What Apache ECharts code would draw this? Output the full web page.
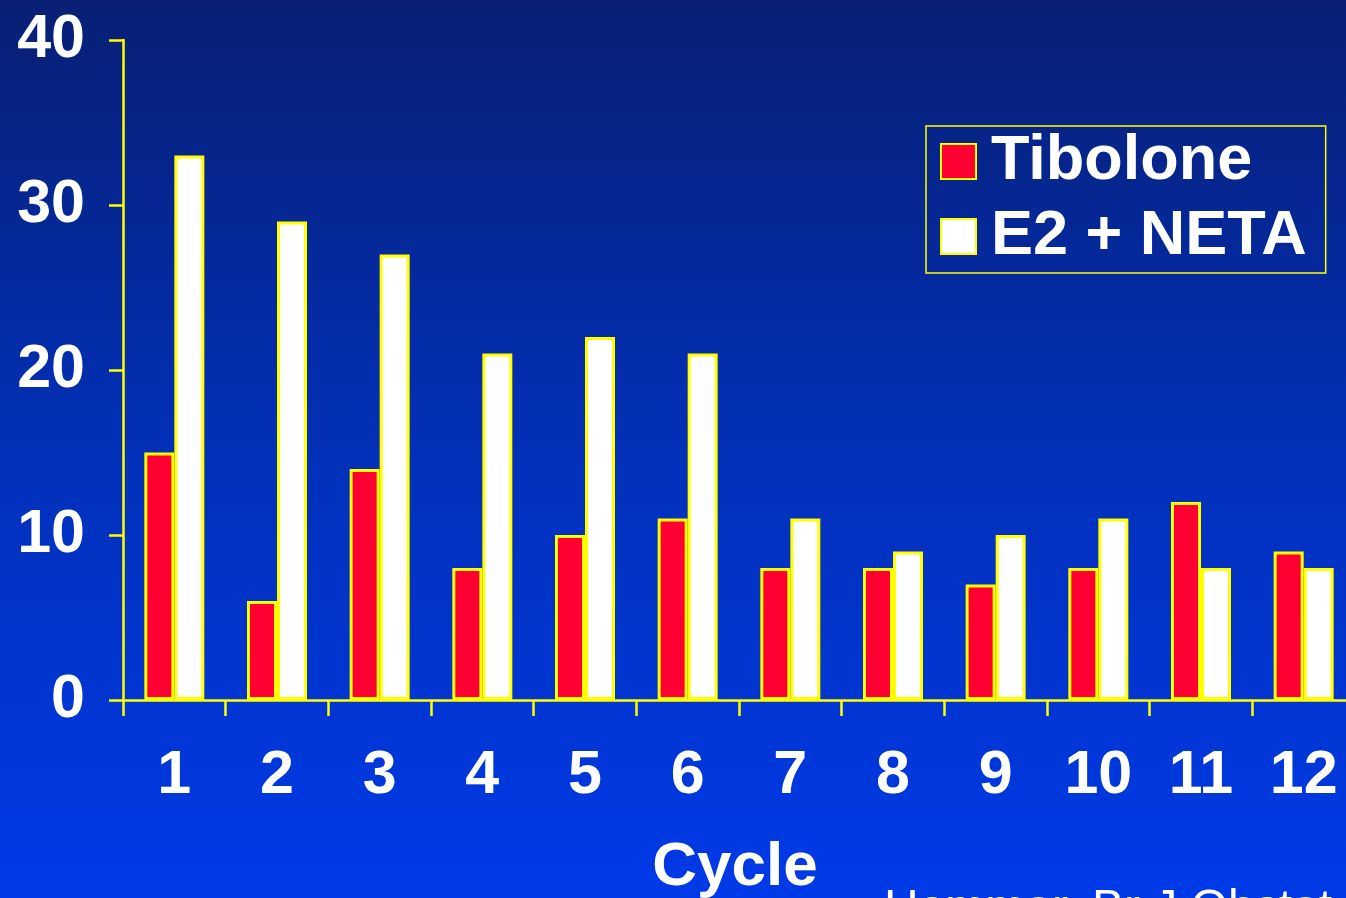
<!DOCTYPE html>
<html>
<head>
<meta charset="utf-8">
<title>Cycle bar chart</title>
<script src="https://cdn.jsdelivr.net/npm/echarts@6/dist/echarts.min.js"></script>
<style>
  html, body { margin: 0; padding: 0; overflow: hidden; width: 1346px; height: 898px; }
  /* the plot runs a few pixels past the right edge of the page */
  #chart { width: 1355px; height: 898px; }
</style>
</head>
<body>
<div id="chart"></div>
<script>
// Cycle numbers along the x axis
const cycles = ['1', '2', '3', '4', '5', '6', '7', '8', '9', '10', '11', '12'];
// Values per cycle for each treatment group
const tibolone = [15, 6, 14, 8, 10, 11, 8, 8, 7, 8, 12, 9];
const e2Neta = [33, 29, 27, 21, 22, 21, 11, 9, 10, 11, 8, 8];
const seriesNames = ['Tibolone', 'E2 + NETA'];
const sourceNote = 'Hammar, Br J Obstet Gynaecol';

const YELLOW = '#ffff00';
const FONT = '"Liberation Sans", Arial, sans-serif';

const chart = echarts.init(document.getElementById('chart'));

chart.setOption({
  backgroundColor: {
    type: 'linear', x: 0, y: 0, x2: 0, y2: 1,
    colorStops: [
      { offset: 0, color: '#081f74' },
      { offset: 0.5, color: '#0230b8' },
      { offset: 1, color: '#003ae8' }
    ]
  },
  animation: false,
  textStyle: { fontFamily: FONT },
  grid: { left: 123, top: 40, bottom: 198, right: 0, outerBoundsMode: 'none', containLabel: false },
  legend: {
    orient: 'vertical',
    left: 926,
    top: 126,
    padding: [4, 19, 5, 14],
    itemGap: 12,
    itemWidth: 35,
    itemHeight: 35,
    borderColor: YELLOW,
    borderWidth: 1.5,
    icon: 'rect',
    data: seriesNames,
    textStyle: {
      color: '#ffffff',
      fontSize: 63,
      fontWeight: 'bold',
      fontFamily: FONT,
      lineHeight: 60,
      padding: [0, 0, 0, 10]
    }
  },
  xAxis: {
    type: 'category',
    data: cycles,
    name: 'Cycle',
    nameLocation: 'middle',
    nameGap: 137,
    nameTextStyle: {
      color: '#ffffff', fontSize: 62, fontWeight: 'bold', fontFamily: FONT,
      verticalAlign: 'top',
      padding: [0, 8, 0, 0]
    },
    axisLine: { lineStyle: { color: YELLOW, width: 2.5 } },
    axisTick: { show: true, length: 16, lineStyle: { color: YELLOW, width: 2.5 } },
    axisLabel: {
      color: '#ffffff', fontSize: 61, fontWeight: 'bold', fontFamily: FONT, margin: 46
    }
  },
  yAxis: {
    type: 'value',
    min: 0,
    max: 40,
    interval: 10,
    splitLine: { show: false },
    axisLine: { show: true, lineStyle: { color: YELLOW, width: 2.5 } },
    axisTick: { show: true, length: 14, lineStyle: { color: YELLOW, width: 2.5 } },
    axisLabel: {
      color: '#ffffff', fontSize: 61, fontWeight: 'bold', fontFamily: FONT, margin: 38
    }
  },
  series: [
    {
      name: seriesNames[0],
      type: 'bar',
      data: tibolone,
      barWidth: 30,
      barGap: 0,
      itemStyle: { color: '#ff0033', borderColor: YELLOW, borderWidth: 3 }
    },
    {
      name: seriesNames[1],
      type: 'bar',
      data: e2Neta,
      barWidth: 30,
      barGap: 0,
      itemStyle: { color: '#ffffff', borderColor: YELLOW, borderWidth: 3 }
    }
  ],
  graphic: [
    {
      type: 'text',
      left: 884,
      top: 886,
      style: {
        text: sourceNote,
        fill: '#ffffff',
        font: '48px ' + FONT,
        textShadowColor: '#000000',
        textShadowOffsetX: -1.5,
        textShadowOffsetY: 1,
        textShadowBlur: 0
      }
    }
  ]
});
</script>
</body>
</html>
